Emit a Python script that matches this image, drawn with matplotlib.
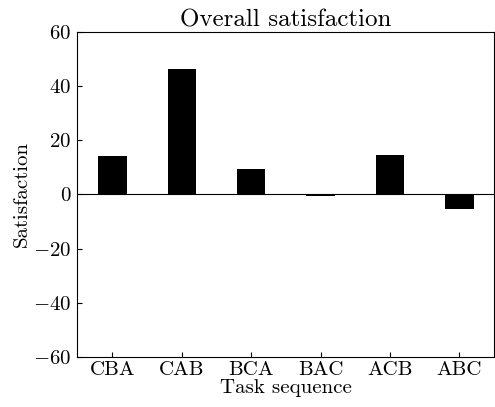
import matplotlib
matplotlib.use("Agg")
import matplotlib.pyplot as plt

sequences = ["CBA", "CAB", "BCA", "BAC", "ACB", "ABC"]
satisfaction = [14.2, 46.4, 9.4, -0.4, 14.5, -5.2]

plt.rcParams['font.family'] = 'cmr10'
plt.rcParams['mathtext.fontset'] = 'cm'
plt.rcParams['axes.formatter.use_mathtext'] = True
plt.rcParams['font.size'] = 15

fig = plt.figure(figsize=(4.95, 4.07), dpi=100)
ax = fig.add_axes([0.1556, 0.1229, 0.8424, 0.7985])

ax.bar(range(len(sequences)), satisfaction, width=0.41, color="black")
ax.axhline(0, color="black", linewidth=0.8)

ax.set_xlim(-0.51, 5.5)
ax.set_ylim(-60, 60)
ax.set_yticks([-60, -40, -20, 0, 20, 40, 60])
ax.set_xticks(range(len(sequences)))
ax.set_xticklabels(sequences)
ax.tick_params(axis="x", direction="in", pad=3)
ax.tick_params(axis="y", direction="in", pad=4)

ax.set_title("Overall satisfaction", pad=2)
ax.set_xlabel("Task sequence", labelpad=0)
ax.set_ylabel("Satisfaction", labelpad=2)

fig.savefig("out.png", dpi=100)
